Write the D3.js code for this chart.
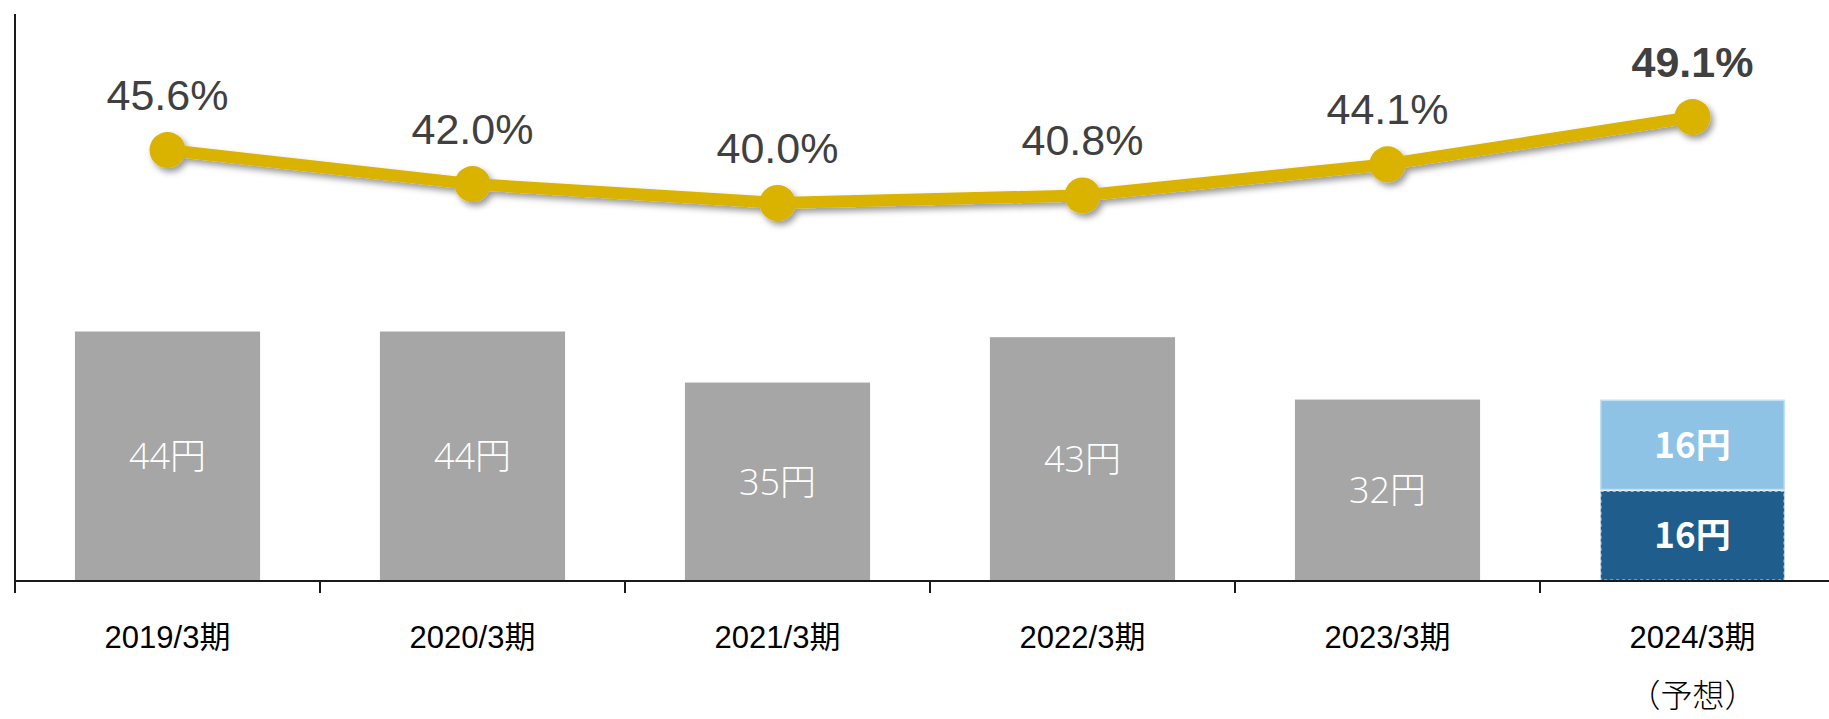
<!DOCTYPE html>
<html lang="ja">
<head>
<meta charset="utf-8">
<script src="https://cdn.jsdelivr.net/npm/d3@7"></script>
<style>
  html, body { margin: 0; padding: 0; background: #ffffff; }
  svg { display: block; }
</style>
</head>
<body>
<svg id="chart" width="1829" height="719"></svg>
<script>
// Fiscal periods and their labels
const periods = ["2019/3期", "2020/3期", "2021/3期", "2022/3期", "2023/3期", "2024/3期"];
const periodNotes = ["", "", "", "", "", "（予想）"];

// Annual dividend per share (yen); last period is a forecast split into interim / year-end
const dividends = [44, 44, 35, 43, 32, null];
const forecastInterim = 16;
const forecastYearEnd = 16;

// Payout ratio (%)
const payoutRatio = [45.6, 42.0, 40.0, 40.8, 44.1, 49.1];

const svg = d3.select("#chart");
const W = 1829, H = 719;

const plotLeft = 15, plotTop = 14, baseY = 581;
const bandW = 305;

const x = d3.scaleBand()
  .domain(periods)
  .range([plotLeft, plotLeft + bandW * periods.length])
  .paddingInner(0.393)
  .paddingOuter(0.1965);

const yYen = d3.scaleLinear().domain([0, 100]).range([baseY, plotTop]);
const yPct = d3.scaleLinear().domain([0, 60]).range([baseY, plotTop]);

const defs = svg.append("defs");
const shadow = defs.append("filter").attr("id", "shadow")
  .attr("x", "-10%").attr("y", "-50%").attr("width", "120%").attr("height", "200%");
shadow.append("feDropShadow")
  .attr("dx", 3).attr("dy", 4).attr("stdDeviation", 3)
  .attr("flood-color", "#000").attr("flood-opacity", 0.4);

const latinFont = "'Liberation Sans', Arial, 'Noto Sans CJK JP', sans-serif";
const barFont = "'Open Sans', 'Noto Sans CJK JP', sans-serif";
const cjkFont = "'Noto Sans CJK JP', 'Noto Sans', sans-serif";

// Gray bars for actual dividends
const actual = periods.map((p, i) => ({ p, v: dividends[i] })).filter(d => d.v != null);
svg.append("g").selectAll("rect").data(actual).join("rect")
  .attr("x", d => x(d.p))
  .attr("width", x.bandwidth())
  .attr("y", d => yYen(d.v))
  .attr("height", d => baseY - yYen(d.v))
  .attr("fill", "#a6a6a6");

svg.append("g").selectAll("text").data(actual).join("text")
  .attr("x", d => x(d.p) + x.bandwidth() / 2)
  .attr("y", d => (yYen(d.v) + baseY) / 2)
  .attr("dy", "0.36em")
  .attr("text-anchor", "middle")
  .attr("fill", "#ffffff")
  .attr("font-family", barFont)
  .attr("font-weight", 300)
  .attr("font-size", 36)
  .text(d => d.v + "円");

// Forecast stacked bar
const fp = periods[periods.length - 1];
const fx = x(fp), fw = x.bandwidth();
const segs = [
  { lo: 0, hi: forecastInterim, fill: "#1f5e8c", stroke: "#d0e2f0", dash: "3,3" },
  { lo: forecastInterim, hi: forecastInterim + forecastYearEnd, fill: "#8fc3e6", stroke: "#c3e0f2", dash: null }
];
svg.append("g").selectAll("rect").data(segs).join("rect")
  .attr("x", fx + 0.75)
  .attr("width", fw - 1.5)
  .attr("y", d => yYen(d.hi) + 0.75)
  .attr("height", d => yYen(d.lo) - yYen(d.hi) - 1.5)
  .attr("fill", d => d.fill)
  .attr("stroke", d => d.stroke)
  .attr("stroke-width", 1.5)
  .attr("stroke-dasharray", d => d.dash);

svg.append("g").selectAll("text").data(segs).join("text")
  .attr("x", fx + fw / 2)
  .attr("y", d => (yYen(d.lo) + yYen(d.hi)) / 2)
  .attr("dy", "0.36em")
  .attr("text-anchor", "middle")
  .attr("fill", "#ffffff")
  .attr("font-family", cjkFont)
  .attr("font-weight", 700)
  .attr("font-size", 35)
  .text(d => (d.hi - d.lo) + "円");

// Axes
const xAxis = d3.axisBottom(x).tickSize(0).tickFormat("");
const axG = svg.append("g").attr("transform", `translate(0,${baseY})`).call(xAxis);
axG.select(".domain").remove();
svg.append("line")
  .attr("x1", plotLeft).attr("x2", W).attr("y1", baseY).attr("y2", baseY)
  .attr("stroke", "#1a1a1a").attr("stroke-width", 2);
svg.append("line")
  .attr("x1", plotLeft).attr("x2", plotLeft).attr("y1", plotTop).attr("y2", baseY + 12)
  .attr("stroke", "#1a1a1a").attr("stroke-width", 2);

// Band boundary ticks
const bounds = periods.slice(1).map(p => x(p) - x.step() * x.paddingInner() / 2);
svg.append("g").selectAll("line").data(bounds).join("line")
  .attr("x1", d => d).attr("x2", d => d)
  .attr("y1", baseY).attr("y2", baseY + 12)
  .attr("stroke", "#1a1a1a").attr("stroke-width", 2);

// Category labels
svg.append("g").selectAll("text").data(periods).join("text")
  .attr("x", d => x(d) + x.bandwidth() / 2)
  .attr("y", 648)
  .attr("text-anchor", "middle")
  .attr("fill", "#000")
  .attr("font-family", latinFont)
  .attr("font-size", 31)
  .text(d => d);

svg.append("g").selectAll("text").data(periods.map((p, i) => ({ p, n: periodNotes[i] })).filter(d => d.n))
  .join("text")
  .attr("x", d => x(d.p) + x.bandwidth() / 2)
  .attr("y", 707)
  .attr("text-anchor", "middle")
  .attr("fill", "#000")
  .attr("font-family", cjkFont)
  .attr("font-weight", 300)
  .attr("font-size", 32)
  .text(d => d.n);

// Payout ratio line
const pts = periods.map((p, i) => ({ p, v: payoutRatio[i], last: i === periods.length - 1 }));
const cx = d => x(d.p) + x.bandwidth() / 2;
const lineG = svg.append("g").attr("filter", "url(#shadow)");
lineG.append("path")
  .datum(pts)
  .attr("d", d3.line().x(cx).y(d => yPct(d.v)))
  .attr("fill", "none")
  .attr("stroke", "#d9b300")
  .attr("stroke-width", 12);
lineG.selectAll("circle").data(pts).join("circle")
  .attr("cx", cx)
  .attr("cy", d => yPct(d.v))
  .attr("r", 18)
  .attr("fill", "#d9b300");

svg.append("g").selectAll("text").data(pts).join("text")
  .attr("x", cx)
  .attr("y", d => yPct(d.v) - 40)
  .attr("text-anchor", "middle")
  .attr("fill", "#404040")
  .attr("font-family", latinFont)
  .attr("font-weight", d => d.last ? 700 : 400)
  .attr("font-size", 43)
  .text(d => d.v.toFixed(1) + "%");
</script>
</body>
</html>
